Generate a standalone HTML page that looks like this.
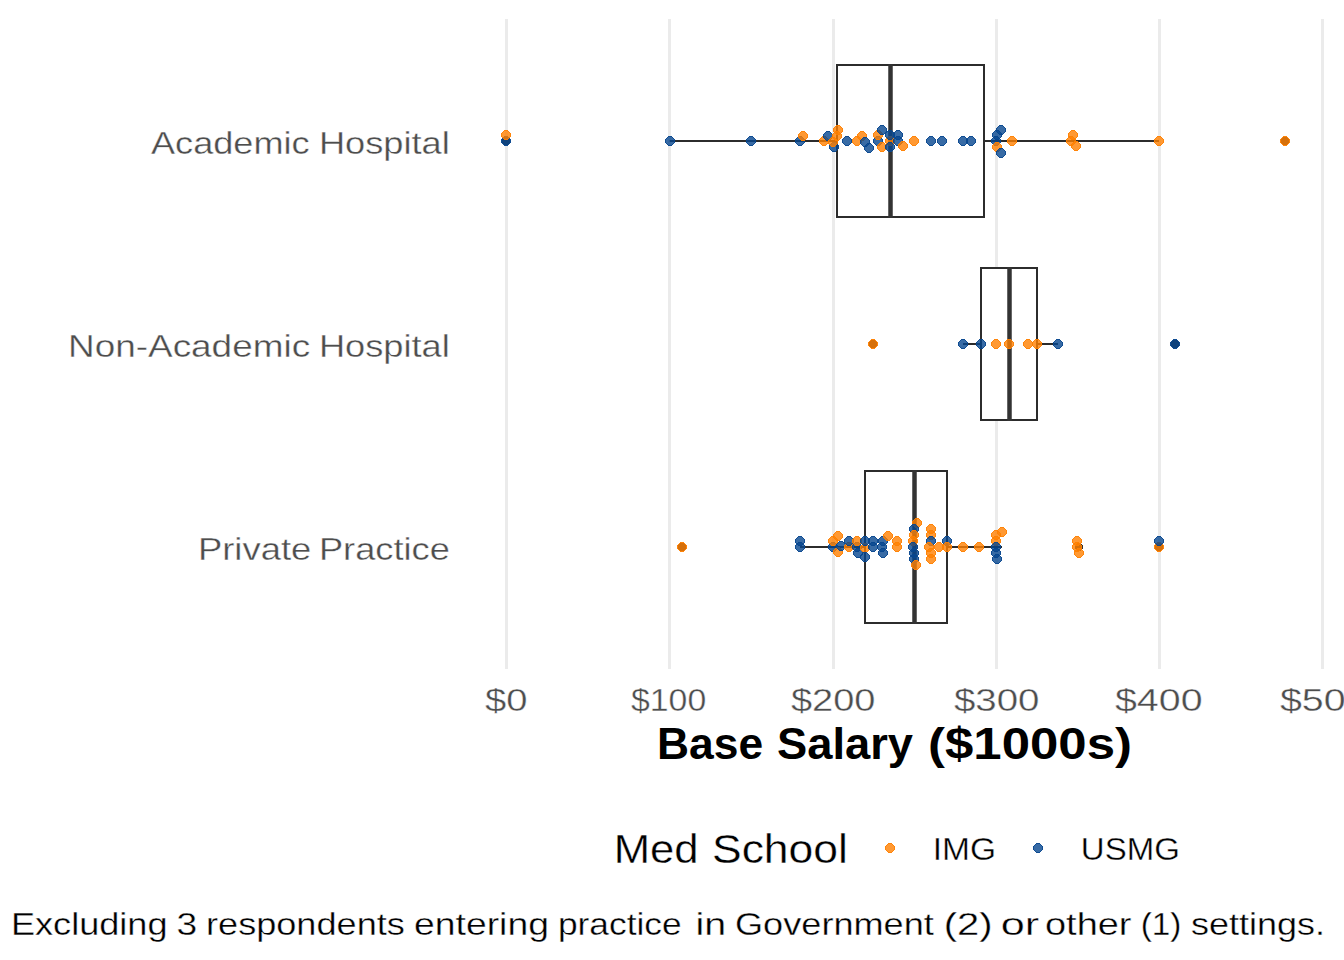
<!DOCTYPE html>
<html><head><meta charset="utf-8">
<style>
html,body{margin:0;padding:0;background:#fff;width:1344px;height:960px;overflow:hidden}
svg{display:block}
text{font-family:"Liberation Sans",sans-serif}
.th text,text.th{stroke:#fff;stroke-width:0.35px;paint-order:fill}
</style></head><body>
<svg width="1344" height="960" viewBox="0 0 1344 960">
<defs>
<path id="f" d="M-2,-5h4v1h1v1h1v1h1v4h-1v1h-1v1h-1v1h-4v-1h-1v-1h-1v-1h-1v-4h1v-1h1v-1h1z"/>
<path id="r" d="M-2,-5h4v1h-4zM-3,-4h1v1h-1zM2,-4h1v1h-1zM-4,-3h1v1h-1zM3,-3h1v1h-1zM-5,-2h1v4h-1zM4,-2h1v4h-1zM-4,2h1v1h-1zM3,2h1v1h-1zM-3,3h1v1h-1zM2,3h1v1h-1zM-2,4h4v1h-4z"/>
<g id="o" fill="#FF7F00" fill-opacity="0.8"><use href="#f"/><use href="#r"/></g>
<g id="b" fill="#06468F" fill-opacity="0.8"><use href="#f"/><use href="#r"/></g>
<path id="k" d="M-2,-4h4v1h1v1h1v4h-1v1h-1v1h-4v-1h-1v-1h-1v-4h1v-1h1z"/>
</defs>
<rect width="1344" height="960" fill="#fff"/>
<g stroke="#EBEBEB" stroke-width="3">
<line x1="506.5" y1="19" x2="506.5" y2="669"/>
<line x1="669.5" y1="19" x2="669.5" y2="669"/>
<line x1="833.5" y1="19" x2="833.5" y2="669"/>
<line x1="996.5" y1="19" x2="996.5" y2="669"/>
<line x1="1159.5" y1="19" x2="1159.5" y2="669"/>
<line x1="1322.5" y1="19" x2="1322.5" y2="669"/>
</g>
<text x="151.01" y="154" font-size="32" fill="#4D4D4D" class="th" textLength="158.63" lengthAdjust="spacingAndGlyphs">Academic</text>
<text x="318.93" y="154" font-size="32" fill="#4D4D4D" class="th" textLength="130.89" lengthAdjust="spacingAndGlyphs">Hospital</text>
<text x="68.03" y="357" font-size="32" fill="#4D4D4D" class="th" textLength="242.07" lengthAdjust="spacingAndGlyphs">Non-Academic</text>
<text x="318.93" y="357" font-size="32" fill="#4D4D4D" class="th" textLength="130.89" lengthAdjust="spacingAndGlyphs">Hospital</text>
<text x="197.91" y="560" font-size="32" fill="#4D4D4D" class="th" textLength="113.39" lengthAdjust="spacingAndGlyphs">Private</text>
<text x="318.95" y="560" font-size="32" fill="#4D4D4D" class="th" textLength="130.84" lengthAdjust="spacingAndGlyphs">Practice</text>
<text x="484.95" y="710.5" font-size="32" fill="#4D4D4D" class="th" textLength="42.43" lengthAdjust="spacingAndGlyphs">$0</text>
<text x="630.99" y="710.5" font-size="32" fill="#4D4D4D" class="th" textLength="75.2" lengthAdjust="spacingAndGlyphs">$100</text>
<text x="790.99" y="710.5" font-size="32" fill="#4D4D4D" class="th" textLength="84.47" lengthAdjust="spacingAndGlyphs">$200</text>
<text x="953.99" y="710.5" font-size="32" fill="#4D4D4D" class="th" textLength="85.5" lengthAdjust="spacingAndGlyphs">$300</text>
<text x="1114.99" y="710.5" font-size="32" fill="#4D4D4D" class="th" textLength="87.56" lengthAdjust="spacingAndGlyphs">$400</text>
<text x="1279.99" y="710.5" font-size="32" fill="#4D4D4D" class="th" textLength="87.56" lengthAdjust="spacingAndGlyphs">$500</text>
<text x="656.94" y="759" font-size="45" font-weight="bold" fill="#000" textLength="106.13" lengthAdjust="spacingAndGlyphs">Base</text>
<text x="777.01" y="759" font-size="45" font-weight="bold" fill="#000" textLength="135.99" lengthAdjust="spacingAndGlyphs">Salary</text>
<text x="928.01" y="759" font-size="45" font-weight="bold" fill="#000" textLength="203.95" lengthAdjust="spacingAndGlyphs">($1000s)</text>
<text x="613.76" y="863" font-size="40.5" fill="#000" class="th" textLength="84.85" lengthAdjust="spacingAndGlyphs">Med</text>
<text x="711.97" y="863" font-size="40.5" fill="#000" class="th" textLength="135.99" lengthAdjust="spacingAndGlyphs">School</text>
<text x="932.71" y="860" font-size="32" fill="#000" class="th" textLength="63.35" lengthAdjust="spacingAndGlyphs">IMG</text>
<text x="1080.89" y="860" font-size="32" fill="#000" class="th" textLength="99.04" lengthAdjust="spacingAndGlyphs">USMG</text>
<text x="10.96" y="935" font-size="32" fill="#000" class="th" textLength="156.59" lengthAdjust="spacingAndGlyphs">Excluding</text>
<text x="176.43" y="935" font-size="32" fill="#000" class="th" textLength="20.68" lengthAdjust="spacingAndGlyphs">3</text>
<text x="206.02" y="935" font-size="32" fill="#000" class="th" textLength="198.81" lengthAdjust="spacingAndGlyphs">respondents</text>
<text x="413.97" y="935" font-size="32" fill="#000" class="th" textLength="134.96" lengthAdjust="spacingAndGlyphs">entering</text>
<text x="557.98" y="935" font-size="32" fill="#000" class="th" textLength="123.61" lengthAdjust="spacingAndGlyphs">practice</text>
<text x="695.62" y="935" font-size="32" fill="#000" class="th" textLength="30.65" lengthAdjust="spacingAndGlyphs">in</text>
<text x="735.03" y="935" font-size="32" fill="#000" class="th" textLength="198.84" lengthAdjust="spacingAndGlyphs">Government</text>
<text x="943.79" y="935" font-size="32" fill="#000" class="th" textLength="48.83" lengthAdjust="spacingAndGlyphs">(2)</text>
<text x="1000.81" y="935" font-size="32" fill="#000" class="th" textLength="38.41" lengthAdjust="spacingAndGlyphs">or</text>
<text x="1044.98" y="935" font-size="32" fill="#000" class="th" textLength="86.53" lengthAdjust="spacingAndGlyphs">other</text>
<text x="1140.74" y="935" font-size="32" fill="#000" class="th" textLength="40.7" lengthAdjust="spacingAndGlyphs">(1)</text>
<text x="1190.99" y="935" font-size="32" fill="#000" class="th" textLength="133.91" lengthAdjust="spacingAndGlyphs">settings.</text>
<g shape-rendering="crispEdges">
<use href="#o" x="890" y="848"/>
<use href="#b" x="1038" y="848"/>
</g>
<g stroke="#2C2C2C" stroke-width="2" fill="none">
<line x1="669.7" y1="141" x2="837" y2="141"/>
<line x1="984" y1="141" x2="1159" y2="141"/>
<line x1="963" y1="344" x2="981" y2="344"/>
<line x1="1037" y1="344" x2="1058" y2="344"/>
<line x1="800" y1="547" x2="865" y2="547"/>
<line x1="947" y1="547" x2="1002" y2="547"/>
<rect x="837" y="65" width="147" height="152" fill="#fff"/>
<rect x="981" y="268" width="56" height="152" fill="#fff"/>
<rect x="865" y="471" width="82" height="152" fill="#fff"/>
</g>
<g stroke="#333" stroke-width="4.5">
<line x1="890.5" y1="64" x2="890.5" y2="218"/>
<line x1="1009.5" y1="267" x2="1009.5" y2="421"/>
<line x1="914.5" y1="470" x2="914.5" y2="624"/>
</g>
<g fill="#333" shape-rendering="crispEdges">
<use href="#k" x="506" y="141"/><use href="#k" x="1285" y="141"/><use href="#k" x="873" y="344"/><use href="#k" x="1175" y="344"/><use href="#k" x="682" y="547"/><use href="#k" x="1079" y="547"/><use href="#k" x="1159" y="547"/>
</g>
<g shape-rendering="crispEdges">
<use href="#b" x="670" y="141"/>
<use href="#b" x="751" y="141"/>
<use href="#b" x="800" y="141"/>
<use href="#o" x="803" y="136"/>
<use href="#o" x="824" y="141"/>
<use href="#b" x="828" y="136"/>
<use href="#o" x="838" y="130"/>
<use href="#o" x="837" y="136"/>
<use href="#b" x="834" y="147"/>
<use href="#o" x="833" y="142"/>
<use href="#b" x="847" y="141"/>
<use href="#o" x="857" y="141"/>
<use href="#o" x="862" y="136"/>
<use href="#b" x="865" y="142"/>
<use href="#b" x="869" y="148"/>
<use href="#b" x="878" y="141"/>
<use href="#o" x="878" y="135"/>
<use href="#b" x="882" y="130"/>
<use href="#o" x="882" y="147"/>
<use href="#o" x="890" y="141"/>
<use href="#b" x="890" y="135"/>
<use href="#b" x="890" y="147"/>
<use href="#b" x="898" y="135"/>
<use href="#b" x="898" y="141"/>
<use href="#o" x="903" y="146"/>
<use href="#o" x="914" y="141"/>
<use href="#b" x="931" y="141"/>
<use href="#b" x="942" y="141"/>
<use href="#b" x="963" y="141"/>
<use href="#b" x="971" y="141"/>
<use href="#b" x="1001" y="130"/>
<use href="#b" x="997" y="135"/>
<use href="#b" x="996" y="141"/>
<use href="#o" x="997" y="147"/>
<use href="#b" x="1001" y="153"/>
<use href="#o" x="1012" y="141"/>
<use href="#o" x="1073" y="135"/>
<use href="#o" x="1071" y="141"/>
<use href="#o" x="1076" y="146"/>
<use href="#o" x="1159" y="141"/>
<use href="#b" x="506" y="141"/>
<use href="#o" x="506" y="135"/>
<use href="#o" x="1285" y="141"/>
<use href="#b" x="963" y="344"/>
<use href="#b" x="981" y="344"/>
<use href="#o" x="996" y="344"/>
<use href="#o" x="1009" y="344"/>
<use href="#o" x="1028" y="344"/>
<use href="#o" x="1037" y="344"/>
<use href="#b" x="1058" y="344"/>
<use href="#o" x="873" y="344"/>
<use href="#b" x="1175" y="344"/>
<use href="#o" x="682" y="547"/>
<use href="#b" x="800" y="541"/>
<use href="#b" x="800" y="547"/>
<use href="#o" x="838" y="536"/>
<use href="#b" x="833" y="547"/>
<use href="#o" x="833" y="541"/>
<use href="#o" x="838" y="552"/>
<use href="#b" x="841" y="546"/>
<use href="#o" x="849" y="547"/>
<use href="#b" x="849" y="541"/>
<use href="#b" x="857" y="547"/>
<use href="#o" x="857" y="541"/>
<use href="#b" x="858" y="553"/>
<use href="#o" x="865" y="548"/>
<use href="#b" x="865" y="541"/>
<use href="#b" x="865" y="557"/>
<use href="#b" x="873" y="541"/>
<use href="#b" x="873" y="547"/>
<use href="#b" x="883" y="541"/>
<use href="#o" x="888" y="536"/>
<use href="#b" x="882" y="547"/>
<use href="#b" x="883" y="553"/>
<use href="#o" x="897" y="541"/>
<use href="#o" x="897" y="547"/>
<use href="#o" x="917" y="523"/>
<use href="#b" x="914" y="529"/>
<use href="#o" x="914" y="535"/>
<use href="#o" x="913" y="541"/>
<use href="#b" x="913" y="547"/>
<use href="#b" x="914" y="553"/>
<use href="#b" x="914" y="559"/>
<use href="#o" x="916" y="565"/>
<use href="#o" x="931" y="529"/>
<use href="#o" x="931" y="535"/>
<use href="#b" x="931" y="541"/>
<use href="#o" x="929" y="547"/>
<use href="#o" x="931" y="553"/>
<use href="#o" x="931" y="559"/>
<use href="#o" x="939" y="547"/>
<use href="#b" x="947" y="541"/>
<use href="#o" x="947" y="547"/>
<use href="#o" x="963" y="547"/>
<use href="#o" x="979" y="547"/>
<use href="#o" x="1002" y="532"/>
<use href="#o" x="996" y="535"/>
<use href="#o" x="996" y="541"/>
<use href="#b" x="996" y="547"/>
<use href="#b" x="996" y="553"/>
<use href="#b" x="997" y="559"/>
<use href="#o" x="1077" y="541"/>
<use href="#o" x="1077" y="547"/>
<use href="#o" x="1079" y="553"/>
<use href="#o" x="1159" y="547"/>
<use href="#b" x="1159" y="541"/>
</g>
</svg>
</body></html>
